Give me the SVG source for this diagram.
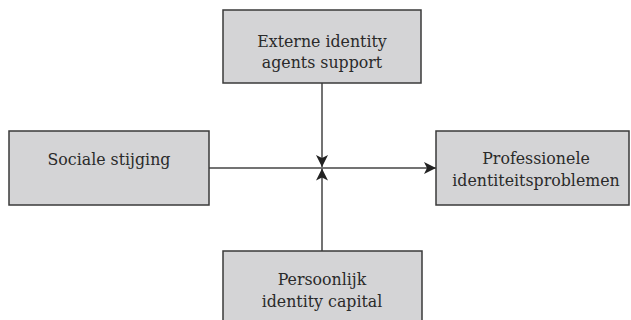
<svg xmlns="http://www.w3.org/2000/svg" width="631" height="320" viewBox="0 0 631 320">
<style>
.box{fill:#d4d4d6;stroke:#3a3a3a;stroke-width:1.5}
.lbl{font-family:"DejaVu Serif","Liberation Serif",serif;font-size:15.8px;fill:#2a2a2a;text-anchor:middle}
.con{stroke:#444;stroke-width:1.5;fill:none}
</style>
<defs>
<marker id="arr" viewBox="0 0 12 12" refX="12" refY="6" markerWidth="12" markerHeight="12" markerUnits="userSpaceOnUse" orient="auto">
<path d="M0,0 L12,6 L0,12 L3,6 Z" fill="#222"/>
</marker>
</defs>
<g id="connectors">
<line class="con" x1="209" y1="168" x2="436" y2="168" marker-end="url(#arr)"/>
<line class="con" x1="322" y1="83" x2="322" y2="167" marker-end="url(#arr)"/>
<line class="con" x1="322" y1="251" x2="322" y2="168.5" marker-end="url(#arr)"/>
</g>
<g id="externe">
<rect class="box" x="223" y="10" width="198" height="73"/>
<text class="lbl" x="322" y="47">Externe identity</text>
<text class="lbl" x="322" y="68">agents support</text>
</g>
<g id="sociale">
<rect class="box" x="9" y="131" width="200" height="74"/>
<text class="lbl" x="109" y="165">Sociale stijging</text>
</g>
<g id="professionele">
<rect class="box" x="436" y="131" width="193" height="74"/>
<text class="lbl" x="536" y="164">Professionele</text>
<text class="lbl" x="536" y="186">identiteitsproblemen</text>
</g>
<g id="persoonlijk">
<rect class="box" x="223" y="251" width="199" height="73"/>
<text class="lbl" x="322" y="285">Persoonlijk</text>
<text class="lbl" x="322" y="307">identity capital</text>
</g>
</svg>
